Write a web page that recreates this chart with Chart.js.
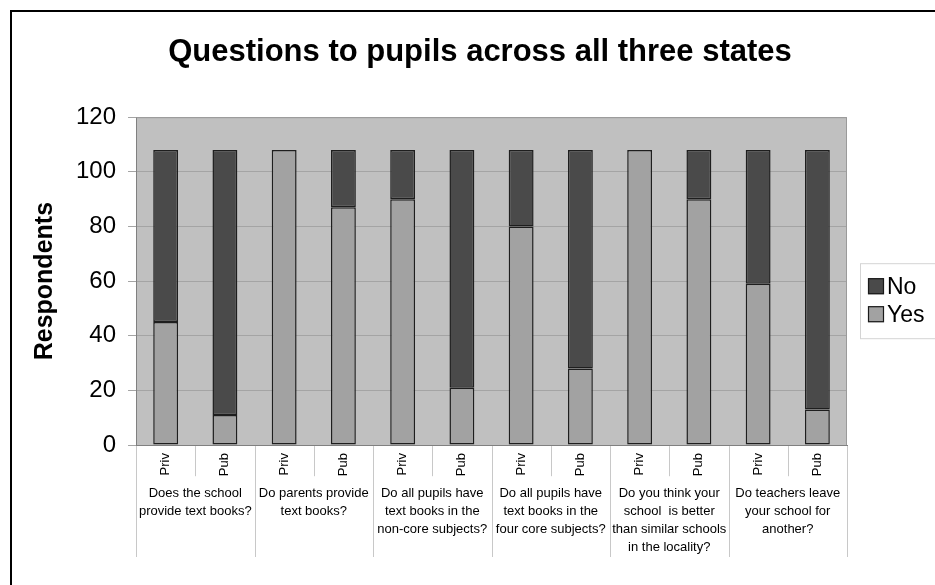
<!DOCTYPE html>
<html>
<head>
<meta charset="utf-8">
<title>Questions to pupils across all three states</title>
<script src="https://cdn.jsdelivr.net/npm/chart.js@4/dist/chart.umd.min.js"></script>
<style>
  html, body { margin: 0; padding: 0; background: #ffffff; }
  #wrap { width: 935px; height: 585px; position: relative; overflow: hidden; }
</style>
</head>
<body>
<div id="wrap"><canvas id="chart"></canvas></div>
<script>
// School type for each bar (two per question)
const schoolTypes = ['Priv', 'Pub', 'Priv', 'Pub', 'Priv', 'Pub', 'Priv', 'Pub', 'Priv', 'Pub', 'Priv', 'Pub'];

// Question asked, one per pair of bars
const questions = [
  ['Does the school', 'provide text books?'],
  ['Do parents provide', 'text books?'],
  ['Do all pupils have', 'text books in the', 'non-core subjects?'],
  ['Do all pupils have', 'text books in the', 'four core subjects?'],
  ['Do you think your', 'school  is better', 'than similar schools', 'in the locality?'],
  ['Do teachers leave', 'your school for', 'another?']
];

// Number of respondents answering each way
const yesCounts = [45, 11, 108, 87, 90, 21, 80, 28, 108, 90, 59, 13];
const noCounts  = [63, 97, 0, 21, 18, 87, 28, 80, 0, 18, 49, 95];

// Value axis ticks
const yTicks = [0, 20, 40, 60, 80, 100, 120];

const FONT = '"Liberation Sans", Arial, Helvetica, sans-serif';
Chart.defaults.font.family = FONT;
Chart.defaults.color = '#000000';

// Grey plot background, plot frame and the outer border lines
const backdrop = {
  id: 'backdrop',
  beforeDraw(chart) {
    const { ctx, chartArea: a } = chart;
    ctx.save();
    ctx.fillStyle = '#c0c0c0';
    ctx.fillRect(a.left, a.top, a.right - a.left, a.bottom - a.top);
    ctx.strokeStyle = '#000000';
    ctx.lineWidth = 2;
    ctx.beginPath();
    ctx.moveTo(11, chart.height + 5);
    ctx.lineTo(11, 11);
    ctx.lineTo(chart.width + 5, 11);
    ctx.stroke();
    ctx.restore();
  },
  afterDraw(chart) {
    const { ctx, chartArea: a } = chart;
    ctx.save();
    ctx.strokeStyle = '#9a9a9a';
    ctx.lineWidth = 1;
    ctx.beginPath();
    ctx.moveTo(a.left, a.top + 0.5);
    ctx.lineTo(a.right - 0.5, a.top + 0.5);
    ctx.lineTo(a.right - 0.5, a.bottom);
    ctx.stroke();
    ctx.restore();
  }
};

// Separators for the two-level category axis:
// short ones between Priv/Pub, long ones between questions
const categorySeparators = {
  id: 'categorySeparators',
  afterDraw(chart) {
    const { ctx, chartArea: a } = chart;
    const x = chart.scales.x;
    const x2 = chart.scales.x2;
    const half = (x.getPixelForValue(1) - x.getPixelForValue(0)) / 2;
    const shortEnd = x.bottom - x.options.ticks.padding;
    ctx.save();
    ctx.strokeStyle = '#c8c8c8';
    ctx.lineWidth = 1;
    for (let i = 0; i <= schoolTypes.length; i++) {
      const px = Math.round(x.getPixelForValue(i) - half) + 0.5;
      const bottom = (i % 2 === 0) ? x2.bottom : shortEnd;
      ctx.beginPath();
      ctx.moveTo(px, a.bottom + 1);
      ctx.lineTo(px, bottom);
      ctx.stroke();
    }
    ctx.restore();
  }
};

// Boxed legend placed as a layout box on the right, "No" listed above "Yes"
const boxedLegend = {
  id: 'boxedLegend',
  beforeInit(chart) {
    const box = {
      position: 'right',
      weight: 1000,
      fullSize: false,
      options: {},
      width: 0,
      height: 0,
      isHorizontal() { return false; },
      update(maxWidth, maxHeight) {
        this.width = 88;
        this.height = maxHeight;
      },
      draw() {
        const ctx = chart.ctx;
        const items = chart.data.datasets.slice().reverse();
        const left = this.left + 13;
        const top = this.top + 146;
        const rowH = 28;
        const boxH = items.length * rowH + 19;
        ctx.save();
        ctx.fillStyle = '#ffffff';
        ctx.strokeStyle = '#d4d4d4';
        ctx.lineWidth = 1;
        ctx.fillRect(left + 0.5, top + 0.5, chart.width, boxH);
        ctx.strokeRect(left + 0.5, top + 0.5, chart.width, boxH);
        ctx.font = '23px ' + FONT;
        ctx.textBaseline = 'middle';
        ctx.textAlign = 'left';
        items.forEach((ds, i) => {
          const cy = top + 23 + i * rowH;
          ctx.fillStyle = ds.backgroundColor;
          ctx.fillRect(left + 8, cy - 8, 16, 16);
          ctx.strokeStyle = '#1a1a1a';
          ctx.lineWidth = 1.2;
          ctx.strokeRect(left + 8.5, cy - 7.5, 15, 15);
          ctx.fillStyle = '#000000';
          ctx.fillText(ds.label, left + 27, cy + 1);
        });
        ctx.restore();
      }
    };
    Chart.layouts.addBox(chart, box);
  }
};

new Chart(document.getElementById('chart'), {
  type: 'bar',
  data: {
    labels: schoolTypes,
    datasets: [
      {
        label: 'Yes',
        data: yesCounts,
        backgroundColor: '#a2a2a2',
        borderColor: '#1e1e1e',
        borderWidth: 1.5,
        borderSkipped: false
      },
      {
        label: 'No',
        data: noCounts,
        backgroundColor: '#4a4a4a',
        borderColor: '#1e1e1e',
        borderWidth: 1.5,
        borderSkipped: false
      }
    ]
  },
  options: {
    responsive: true,
    maintainAspectRatio: false,
    animation: false,
    datasets: {
      bar: { barPercentage: 0.42, categoryPercentage: 1.0 }
    },
    layout: { padding: { left: 25, top: 14, right: 0, bottom: 28 } },
    plugins: {
      legend: { display: false },
      tooltip: { enabled: false },
      title: {
        display: true,
        text: 'Questions to pupils across all three states',
        color: '#000000',
        font: { size: 31, weight: 'bold' },
        padding: { top: 20, bottom: 46 }
      }
    },
    scales: {
      x: {
        stacked: true,
        offset: true,
        grid: { drawOnChartArea: false, drawTicks: false },
        border: { display: true, color: '#808080', width: 1 },
        ticks: {
          font: { size: 13 },
          color: '#000000',
          minRotation: 90,
          maxRotation: 90,
          autoSkip: false,
          padding: 8
        }
      },
      x2: {
        type: 'category',
        position: 'bottom',
        labels: questions,
        offset: true,
        grid: { display: false, drawTicks: false },
        border: { display: false },
        ticks: {
          font: { size: 13, lineHeight: 1.4 },
          color: '#000000',
          minRotation: 0,
          maxRotation: 0,
          autoSkip: false,
          padding: 0
        }
      },
      y: {
        stacked: true,
        min: yTicks[0],
        max: yTicks[yTicks.length - 1],
        afterBuildTicks(scale) {
          scale.ticks = yTicks.map(v => ({ value: v }));
        },
        grid: { color: '#a4a4a4', tickLength: 8, tickColor: '#a4a4a4' },
        border: { display: true, color: '#808080', width: 1 },
        ticks: {
          font: { size: 24 },
          color: '#000000',
          padding: 12
        },
        title: {
          display: true,
          text: 'Respondents',
          color: '#000000',
          font: { size: 25, weight: 'bold' },
          padding: { top: 5, bottom: 4 }
        }
      }
    }
  },
  plugins: [backdrop, categorySeparators, boxedLegend]
});
</script>
</body>
</html>
